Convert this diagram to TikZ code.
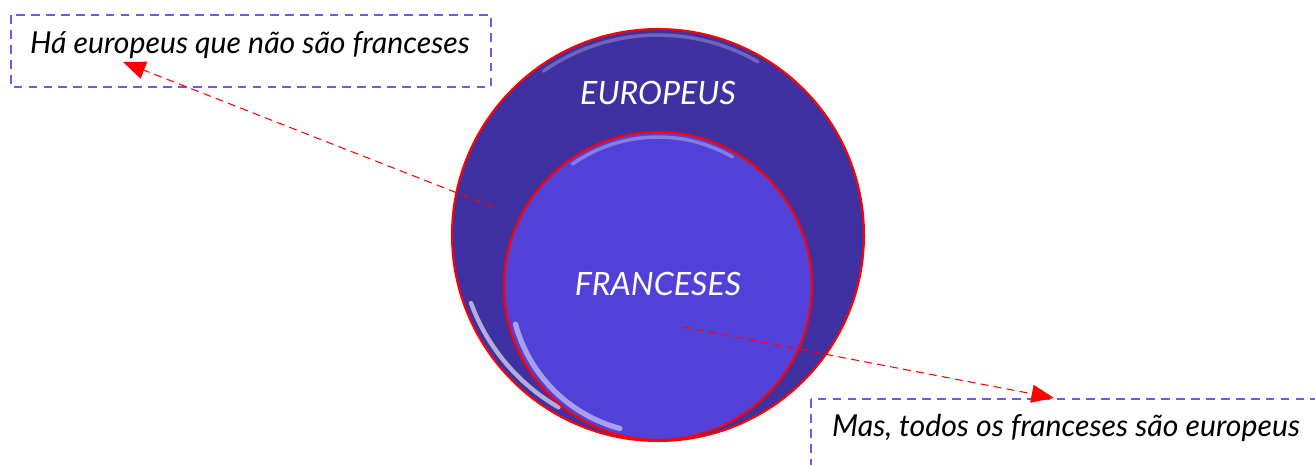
\documentclass[tikz,border=0pt]{standalone}
\usepackage{fontspec}
\setmainfont{Lato}
\usetikzlibrary{arrows.meta}
\definecolor{euro}{HTML}{4031A2}
\definecolor{fran}{HTML}{5241D9}
\definecolor{caixa}{HTML}{6A5CF2}
\tikzset{
  conjunto/.style={circle,draw=red,line width=1.2pt,inner sep=0pt},
  rotulo/.style={text=white,font=\itshape\fontsize{18.3}{22}\selectfont},
  frase/.style={font=\itshape\fontsize{17.2}{21}\selectfont},
  moldura/.style={draw=caixa,line width=1.1pt,dash pattern=on 5pt off 3.5pt},
  brilho/.style={white,line cap=round},
  seta/.style={red,line width=0.6pt,dash pattern=on 4.5pt off 3pt,-{Triangle[length=4.5mm,width=3.6mm]}}
}
\begin{document}
\begin{tikzpicture}[x=0.02cm,y=-0.02cm]
\clip (0,0) rectangle (1315,465);
\fill[white] (0,0) rectangle (1315,465);
\node[conjunto,fill=euro,minimum size=8.24cm] (europeus) at (658,235){};
% brilho nas bordas
\draw[brilho,opacity=.25,line width=2pt] (europeus.center) ++(60:4.0cm) arc[start angle=60,end angle=125,radius=4.0cm];
\draw[brilho,opacity=.6,line width=2.5pt] (europeus.center) ++(200:3.98cm) arc[start angle=200,end angle=240,radius=3.98cm];
\node[conjunto,fill=fran,minimum size=6.16cm] (franceses) at (658,286){};
\draw[brilho,opacity=.3,line width=2pt] (franceses.center) ++(60:2.98cm) arc[start angle=60,end angle=125,radius=2.98cm];
\draw[brilho,opacity=.5,line width=3pt] (franceses.center) ++(195:2.95cm) arc[start angle=195,end angle=255,radius=2.95cm];
\node[rotulo] (teur) at (658,93){EUROPEUS};
\node[rotulo] (tfran) at (658,284){FRANCESES};
\draw[moldura] (11,15) rectangle (491,87);
\node[frase] (ha) at (250,45){Há europeus que não são franceses};
\draw[moldura] (811,399) rectangle (1340,490);
\node[frase,anchor=west] (mas) at (826,428){Mas, todos os franceses são europeus};
\coordinate (a1) at (493,207);
\coordinate (b1) at (123,62);
\coordinate (a2) at (683,327);
\coordinate (b2) at (1054,398);
\draw[seta] (a1)--(b1);
\draw[seta] (a2)--(b2);
\end{tikzpicture}
\end{document}
